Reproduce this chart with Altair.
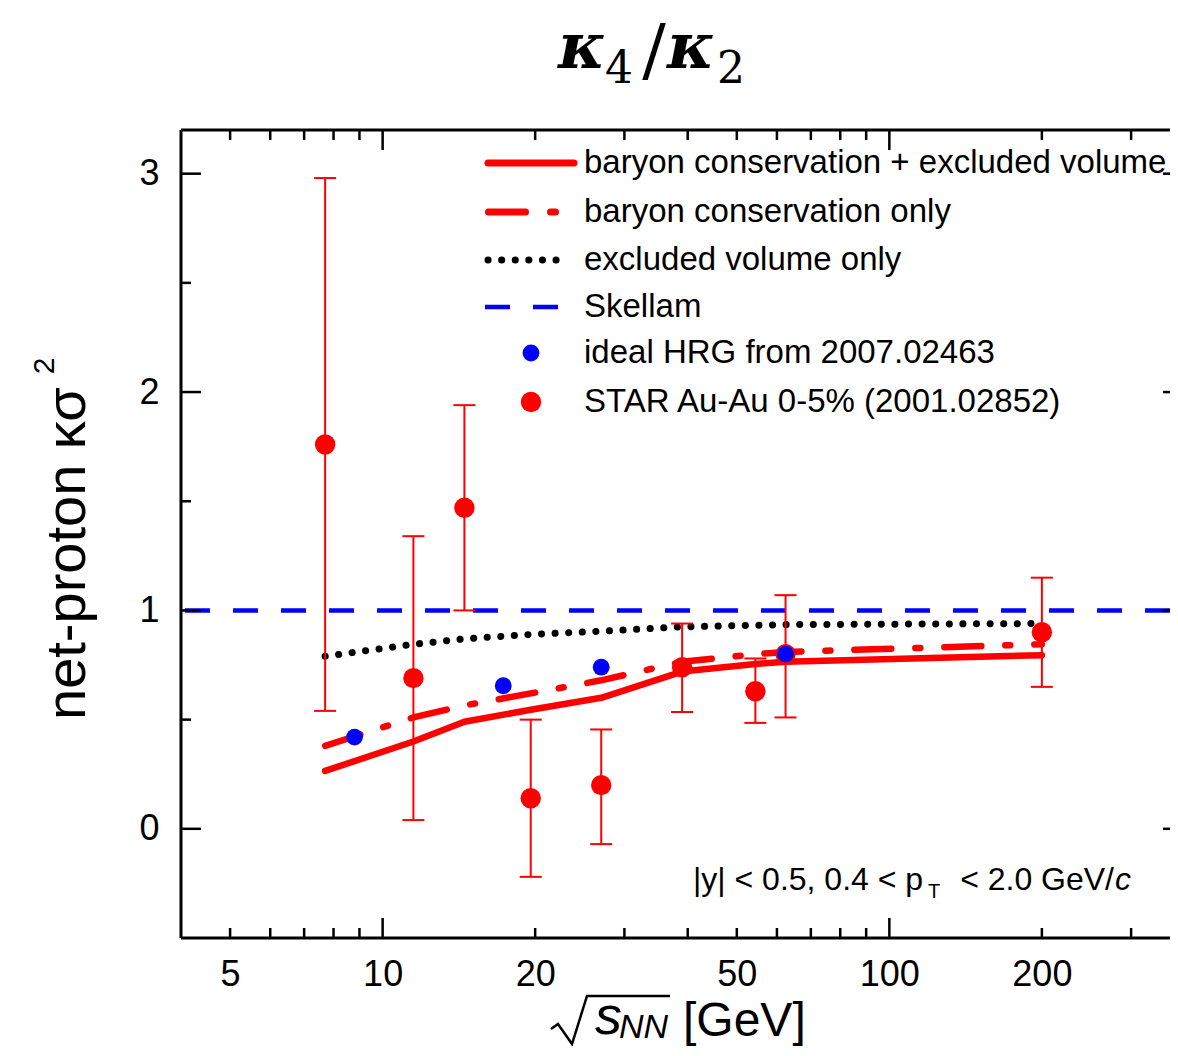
import altair as alt
import pandas as pd

# ---------------- data ----------------
star_energy = [7.7, 11.5, 14.5, 19.6, 27, 39, 54.4, 62.4, 200]
star_value = [1.76, 0.69, 1.47, 0.14, 0.20, 0.74, 0.63, 0.80, 0.90]
star_low = [0.54, 0.04, 1.00, -0.22, -0.07, 0.535, 0.485, 0.51, 0.65]
star_high = [2.98, 1.34, 1.94, 0.50, 0.455, 0.94, 0.78, 1.07, 1.15]

hrg_energy = [8.8, 17.3, 27, 62.4]
hrg_value = [0.42, 0.655, 0.74, 0.80]

model_energy = [7.7, 11.5, 14.5, 19.6, 27, 39, 54.4, 62.4, 200]
bc_ev = [0.265, 0.40, 0.49, 0.545, 0.60, 0.72, 0.755, 0.765, 0.795]
bc_only = [0.38, 0.51, 0.565, 0.62, 0.68, 0.765, 0.80, 0.81, 0.845]
ev_only = [0.79, 0.845, 0.87, 0.89, 0.905, 0.925, 0.932, 0.935, 0.94]
skellam_value = [1.0]

x_label_values = [5, 10, 20, 50, 100, 200]
x_major_ticks = [10, 100]
x_minor_ticks = [5, 6, 7, 8, 9, 20, 30, 40, 50, 60, 70, 80, 90, 200, 300]
y_label_values = [0, 1, 2, 3]
y_minor_ticks = [0.5, 1.5, 2.5]

legend_labels = [
    "baryon conservation + excluded volume",
    "baryon conservation only",
    "excluded volume only",
    "Skellam",
    "ideal HRG from 2007.02463",
    "STAR Au-Au 0-5% (2001.02852)",
]

# radical sign of the x-axis title (pixel path, decoration only)
radical_px = [370, 377, 391, 406, 489]
radical_py = [899, 894, 914, 866, 866]

# ---------------- layout ----------------
W, H = 989, 808
RED = "#ff0000"
BLUE = "#0000ff"
SANS = "Liberation Sans"

xs = alt.Scale(type="log", domain=[4, 358], nice=False)
ys = alt.Scale(domain=[-0.5, 3.2], nice=False, zero=False)

x_axis = alt.Axis(values=x_label_values, format="d", ticks=False, domain=False, grid=False,
                  labelFontSize=36, labelFont=SANS, labelColor="black", labelPadding=19,
                  title=None, labelFlush=False)
y_axis = alt.Axis(values=y_label_values, format="d", ticks=False, domain=False, grid=False,
                  labelFontSize=36, labelFont=SANS, labelColor="black", labelPadding=22,
                  title=None)

X = alt.X("x:Q", scale=xs, axis=x_axis)
Y = alt.Y("y:Q", scale=ys, axis=y_axis)

def xy(xv, yv):
    return pd.DataFrame({"x": xv, "y": yv})

one = pd.DataFrame({"a": [0]})

layers = []

# Skellam
layers.append(alt.Chart(pd.DataFrame({"y": skellam_value})).mark_rule(
    color=BLUE, strokeWidth=4.5, strokeDash=[25, 23]).encode(y=Y))

# model curves
layers.append(alt.Chart(xy(model_energy, ev_only)).mark_line(
    color="black", strokeWidth=7, strokeDash=[0.1, 13.5], strokeCap="round").encode(x=X, y=Y))
layers.append(alt.Chart(xy(model_energy, bc_only)).mark_line(
    color=RED, strokeWidth=6.5, strokeDash=[37, 24, 5, 24], strokeCap="round").encode(x=X, y=Y))
layers.append(alt.Chart(xy(model_energy, bc_ev)).mark_line(
    color=RED, strokeWidth=6.5, strokeCap="round", strokeJoin="round").encode(x=X, y=Y))

# STAR error bars
star_df = pd.DataFrame({"x": star_energy, "y": star_value, "lo": star_low, "hi": star_high})
layers.append(alt.Chart(star_df).mark_rule(color=RED, strokeWidth=2).encode(
    x=X, y=alt.Y("lo:Q", scale=ys, axis=y_axis), y2="hi:Q"))
layers.append(alt.Chart(star_df).mark_tick(color=RED, orient="horizontal", size=22,
                                           thickness=2, opacity=1).encode(
    x=X, y=alt.Y("lo:Q", scale=ys, axis=y_axis)))
layers.append(alt.Chart(star_df).mark_tick(color=RED, orient="horizontal", size=22,
                                           thickness=2, opacity=1).encode(
    x=X, y=alt.Y("hi:Q", scale=ys, axis=y_axis)))
layers.append(alt.Chart(star_df).mark_circle(color=RED, size=415, opacity=1).encode(x=X, y=Y))

# HRG points
layers.append(alt.Chart(xy(hrg_energy, hrg_value)).mark_circle(
    color=BLUE, size=283, opacity=1).encode(x=X, y=Y))

# ---------------- frame & inward ticks ----------------
def hline(y, x1, x2, w=3):
    return alt.Chart(one).mark_rule(color="black", strokeWidth=w).encode(
        y=alt.value(y), x=alt.value(x1), x2=alt.value(x2))

def vline(x, y1, y2, w=3):
    return alt.Chart(one).mark_rule(color="black", strokeWidth=w).encode(
        x=alt.value(x), y=alt.value(y1), y2=alt.value(y2))

layers.append(vline(0, 0, H))
layers.append(hline(0, 0, W))
layers.append(hline(H, 0, W))

def xticks(vals, length):
    d = pd.DataFrame({"x": vals})
    bot = alt.Chart(d).mark_rule(color="black", strokeWidth=2.5).encode(
        x=X, y=alt.value(H), y2=alt.value(H - length))
    top = alt.Chart(d).mark_rule(color="black", strokeWidth=2.5).encode(
        x=X, y=alt.value(0), y2=alt.value(length))
    return [bot, top]

def yticks(vals, length, right_len):
    d = pd.DataFrame({"y": vals})
    out = [alt.Chart(d).mark_rule(color="black", strokeWidth=2.5).encode(
        y=Y, x=alt.value(0), x2=alt.value(length))]
    if right_len > 0:
        out.append(alt.Chart(d).mark_rule(color="black", strokeWidth=2.5).encode(
            y=Y, x=alt.value(W - right_len), x2=alt.value(W)))
    return out

layers += xticks(x_major_ticks, 20)
layers += xticks(x_minor_ticks, 10)
layers += yticks(y_label_values, 20, 7)
layers += yticks(y_minor_ticks, 10, 0)

# ---------------- text helpers ----------------
def txt(s, x, y, size, font=SANS, align="left", baseline="middle", style="normal",
        angle=0, weight="normal"):
    return alt.Chart(one).mark_text(text=s, font=font, fontSize=size, align=align,
                                    baseline=baseline, fontStyle=style, angle=angle,
                                    fontWeight=weight, color="black").encode(
        x=alt.value(x), y=alt.value(y))

# title kappa_4 / kappa_2
SERIF = "DejaVu Serif"
layers.append(txt("κ", 401, -62, 64, font=SERIF, align="center", baseline="alphabetic",
                  style="italic", weight="bold"))
layers.append(txt("4", 438, -47, 44, font=SERIF, align="center", baseline="alphabetic"))
layers.append(txt("/", 473, -56, 70, font=SERIF, align="center", baseline="alphabetic"))
layers.append(txt("κ", 510, -62, 64, font=SERIF, align="center", baseline="alphabetic",
                  style="italic", weight="bold"))
layers.append(txt("2", 550, -47, 44, font=SERIF, align="center", baseline="alphabetic"))

# y title
layers.append(txt("net-proton κσ", -96, 590, 56, align="left", baseline="alphabetic", angle=270))
layers.append(txt("2", -127, 236, 30, align="center", baseline="alphabetic", angle=270))

# x title
layers.append(alt.Chart(pd.DataFrame({"px": radical_px, "py": radical_py,
                                      "o": list(range(len(radical_px)))})).mark_line(
    color="black", strokeWidth=2.5, strokeJoin="miter").encode(
    x=alt.X("px:Q", scale=None), y=alt.Y("py:Q", scale=None), order="o:Q"))
layers.append(txt("s", 414, 904, 54, align="left", baseline="alphabetic", style="italic"))
layers.append(txt("NN", 438, 908, 34, align="left", baseline="alphabetic", style="italic"))
layers.append(txt("[GeV]", 502, 906, 48, align="left", baseline="alphabetic"))

# annotation
layers.append(txt("|y| < 0.5, 0.4 < p", 512, 760, 32, align="left", baseline="alphabetic"))
layers.append(txt("T", 747, 768, 20, align="left", baseline="alphabetic"))
layers.append(txt("< 2.0 GeV/", 933, 760, 32, align="right", baseline="alphabetic"))
layers.append(txt("c", 934, 760, 32, align="left", baseline="alphabetic", style="italic"))

# ---------------- legend ----------------
row_y = [33, 82, 130, 177, 223, 272]
layers.append(alt.Chart(one).mark_rule(color=RED, strokeWidth=7, strokeCap="round").encode(
    y=alt.value(row_y[0]), x=alt.value(307), x2=alt.value(393)))
layers.append(alt.Chart(one).mark_rule(color=RED, strokeWidth=7, strokeCap="round",
                                       strokeDash=[37, 25, 5, 30]).encode(
    y=alt.value(row_y[1]), x=alt.value(307.5), x2=alt.value(375)))
layers.append(alt.Chart(one).mark_rule(color="black", strokeWidth=7, strokeCap="round",
                                       strokeDash=[0.1, 13.5]).encode(
    y=alt.value(row_y[2]), x=alt.value(307), x2=alt.value(388.2)))
layers.append(alt.Chart(one).mark_rule(color=BLUE, strokeWidth=4.5,
                                       strokeDash=[25, 23]).encode(
    y=alt.value(row_y[3]), x=alt.value(304), x2=alt.value(378)))
layers.append(alt.Chart(one).mark_circle(color=BLUE, size=283, opacity=1).encode(
    x=alt.value(350), y=alt.value(row_y[4])))
layers.append(alt.Chart(one).mark_circle(color=RED, size=415, opacity=1).encode(
    x=alt.value(350), y=alt.value(row_y[5])))
for lab, ry in zip(legend_labels, row_y):
    layers.append(txt(lab, 403, ry, 33, align="left", baseline="middle"))

chart = alt.layer(*layers).properties(
    width=W, height=H,
    autosize=alt.AutoSizeParams(type="none"),
    padding={"left": 173, "top": 122, "right": 0, "bottom": 108},
    background="white",
).configure_view(stroke=None)

chart.save("out.html", embed_options={"renderer": "svg", "actions": False})
